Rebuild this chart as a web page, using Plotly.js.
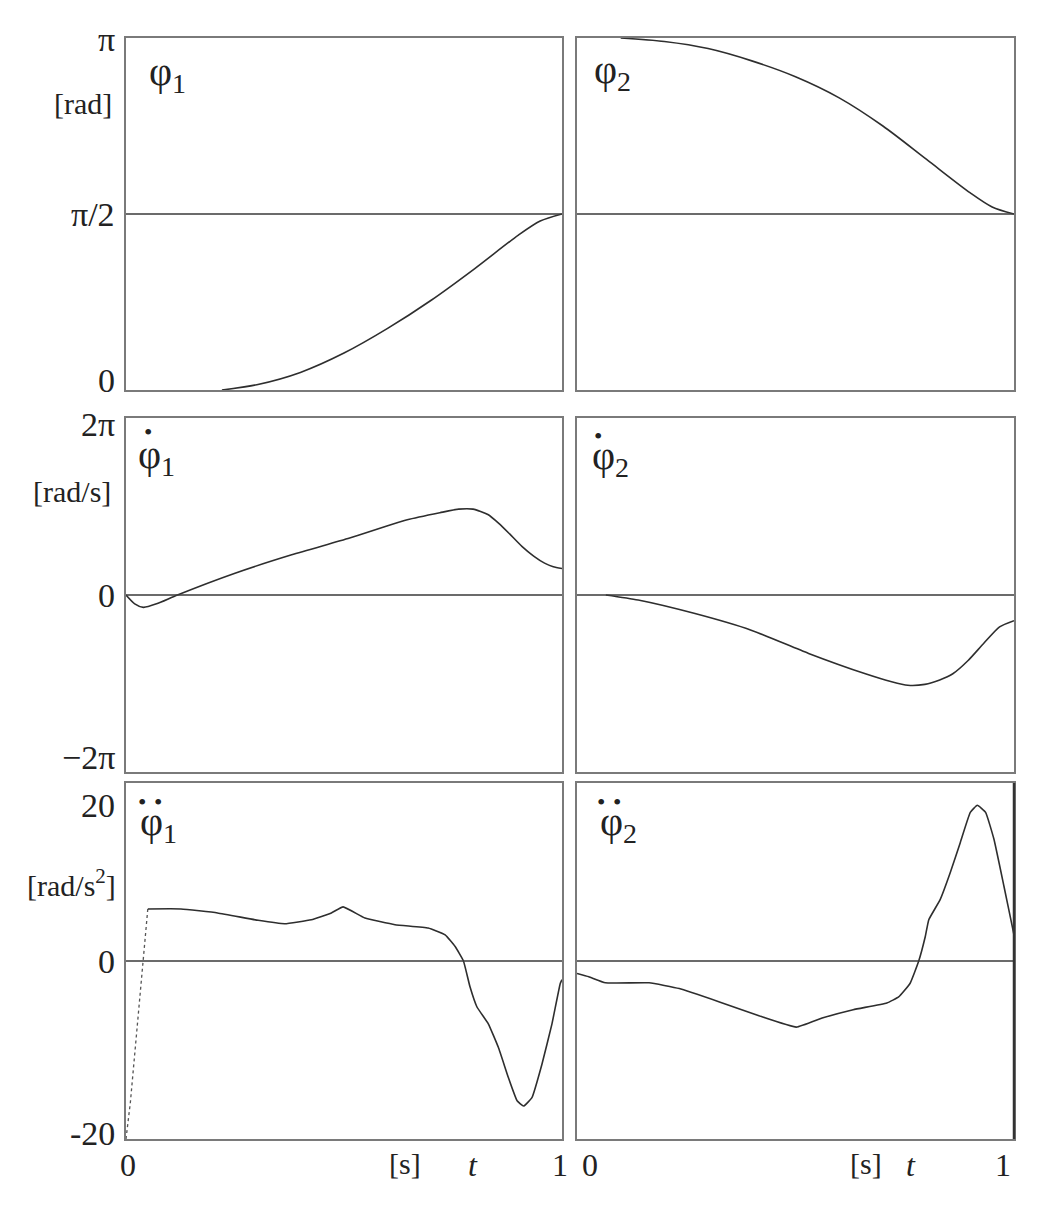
<!DOCTYPE html>
<html><head><meta charset="utf-8">
<script src="https://cdn.plot.ly/plotly-3.0.1.min.js"></script>
<style>html,body{margin:0;padding:0;background:#fff}</style>
</head><body><div id="chart" style="width:1048px;height:1208px"></div>
<script>
// ---- data (angles and angular rates in units of pi) ----
const tPhi1 = [0.22, 0.3, 0.4, 0.5, 0.6, 0.7, 0.8, 0.9, 0.95, 1.0];
const phi1  = [0, 0.015, 0.05, 0.105, 0.175, 0.255, 0.345, 0.44, 0.48, 0.5];

const tPhi2 = [0.1, 0.2, 0.3, 0.4, 0.5, 0.6, 0.7, 0.8, 0.9, 0.95, 1.0];
const phi2  = [1, 0.99, 0.97, 0.935, 0.89, 0.83, 0.75, 0.655, 0.56, 0.52, 0.5];

const tDPhi1 = [0, 0.02, 0.04, 0.07, 0.118, 0.25, 0.38, 0.513, 0.645, 0.72, 0.763, 0.796, 0.83, 0.855, 0.88, 0.908, 0.935, 0.96, 0.98, 1];
const dPhi1  = [0, -0.1, -0.14, -0.1, 0, 0.246, 0.454, 0.643, 0.85, 0.93, 0.97, 0.97, 0.91, 0.81, 0.69, 0.55, 0.44, 0.36, 0.32, 0.30];

const tDPhi2 = [0.066, 0.14, 0.27, 0.40, 0.53, 0.66, 0.72, 0.757, 0.796, 0.83, 0.86, 0.895, 0.93, 0.967, 1];
const dPhi2  = [0, -0.057, -0.21, -0.40, -0.66, -0.89, -0.98, -1.02, -1.01, -0.96, -0.89, -0.74, -0.55, -0.36, -0.29];

const tDDPhi1 = [0, 0.01, 0.05, 0.126, 0.21, 0.303, 0.364, 0.425, 0.471, 0.498, 0.548, 0.617, 0.693, 0.732, 0.755, 0.774, 0.789, 0.805, 0.831, 0.854, 0.877, 0.897, 0.912, 0.931, 0.954, 0.977, 0.996, 1];
const ddPhi1  = [-20, -15.9, 5.85, 5.85, 5.4, 4.57, 4.19, 4.64, 5.4, 6.08, 4.83, 4.08, 3.7, 2.94, 1.62, 0, -2.9, -5.17, -7.06, -9.7, -13.1, -15.7, -16.3, -15.36, -11.6, -7.06, -2.53, -2.1];
const dottedCount = 3; // first points of ddPhi1 drawn dotted

const tDDPhi2 = [0, 0.027, 0.065, 0.165, 0.234, 0.326, 0.418, 0.502, 0.563, 0.632, 0.709, 0.736, 0.762, 0.782, 0.797, 0.805, 0.831, 0.854, 0.877, 0.9, 0.916, 0.935, 0.954, 0.977, 0.996, 1];
const ddPhi2  = [-1.4, -1.77, -2.45, -2.45, -3.1, -4.6, -6.19, -7.43, -6.38, -5.47, -4.72, -4.04, -2.53, 0, 2.75, 4.64, 6.9, 9.92, 13.3, 16.7, 17.5, 16.7, 13.7, 8.4, 3.9, 2.9];

// axis tick labels and texts
const row1TickVals = [0, 0.5, 1];   const row1TickText = ['0', 'π/2', 'π'];
const row2TickVals = [-2, 0, 2];    const row2TickText = ['−2π', '0', '2π'];
const row3TickVals = [-20, 0, 20];  const row3TickText = ['-20', '0', '20'];
const unitLabels = ['[rad]', '[rad/s]', '[rad/s<sup>2</sup>]'];
const panelSymbols = ['φ<sub>1</sub>', 'φ<sub>2</sub>', 'φ<sub>1</sub>', 'φ<sub>2</sub>', 'φ<sub>1</sub>', 'φ<sub>2</sub>'];
const derivDots = [0, 0, 1, 1, 2, 2]; // number of derivative dots over each symbol
const refLines = [0.5, 0, 0]; // horizontal reference line per row
const xTickText = ['0', '1'];
const xUnit = '[s]';
const xSymbol = '<i>t</i>';

// ---- layout ----
const W = 1048, H = 1208;
const colLeft = [126, 577], colRight = [562, 1014];
const rowTop = [38, 418, 783], rowBot = [390, 772, 1139];
const colDom = [0, 1].map(c => [colLeft[c] / W, colRight[c] / W]);
const rowDom = [0, 1, 2].map(r => [1 - rowBot[r] / H, 1 - rowTop[r] / H]);
const yRanges = [[0, 1], [-2, 2], [-20, 20]];
const serif = "'Liberation Serif', 'Times New Roman', serif";
const curve = {color: '#2e2e2e', width: 1.6};
const ink = '#222';

const traces = [];
function add(x, y, k, line) {
  const s = k === 0 ? '' : String(k + 1);
  traces.push({x: x, y: y, xaxis: 'x' + s, yaxis: 'y' + s, type: 'scatter', mode: 'lines',
    line: Object.assign({}, curve, line || {}), hoverinfo: 'skip', showlegend: false});
}
add(tPhi1, phi1, 0, {shape: 'spline', smoothing: 0.8});
add(tPhi2, phi2, 1, {shape: 'spline', smoothing: 0.8});
add(tDPhi1, dPhi1, 2, {shape: 'spline', smoothing: 0.6});
add(tDPhi2, dPhi2, 3, {shape: 'spline', smoothing: 0.6});
add(tDDPhi1.slice(0, dottedCount), ddPhi1.slice(0, dottedCount), 4, {color: '#555', width: 1.3, dash: 'dot'});
add(tDDPhi1.slice(dottedCount - 1), ddPhi1.slice(dottedCount - 1), 4, {shape: 'spline', smoothing: 0.35});
add(tDDPhi2, ddPhi2, 5, {shape: 'spline', smoothing: 0.35});

const layout = {
  width: W, height: H, margin: {l: 0, r: 0, t: 0, b: 0},
  paper_bgcolor: '#fff', plot_bgcolor: '#fff', showlegend: false,
  font: {family: serif, color: ink},
  shapes: [], annotations: []
};
// symbol placement: [left offset, centre offset from top], dot offsets
const symPos = [[21, 36], [15, 34], [10, 39], [13, 40], [12, 41], [21, 41]];
const dotPos = [[], [], [[22, 14]], [[21, 18]], [[16, 19], [32, 19]], [[24, 19], [40, 19]]];
for (let k = 0; k < 6; k++) {
  const r = Math.floor(k / 2), c = k % 2;
  const s = k === 0 ? '' : String(k + 1);
  const common = {showline: true, mirror: true, linecolor: '#7a7a7a', linewidth: 2,
    showgrid: false, zeroline: false, showticklabels: false, ticks: '', fixedrange: true};
  layout['xaxis' + s] = Object.assign({}, common, {domain: colDom[c], range: [0, 1], anchor: 'y' + s});
  layout['yaxis' + s] = Object.assign({}, common, {domain: rowDom[r], range: yRanges[r], anchor: 'x' + s});
  layout.shapes.push({type: 'line', xref: 'x' + s + ' domain', x0: 0, x1: 1, yref: 'y' + s,
    y0: refLines[r], y1: refLines[r], line: {color: '#3a3a3a', width: 1.6}});
  layout.annotations.push({xref: 'x' + s + ' domain', yref: 'y' + s + ' domain', x: 0, y: 1,
    xanchor: 'left', yanchor: 'middle', xshift: symPos[k][0], yshift: -symPos[k][1], showarrow: false,
    text: panelSymbols[k], font: {family: serif, size: 40, color: ink}});
  for (let d = 0; d < derivDots[k]; d++) {
    layout.annotations.push({xref: 'x' + s + ' domain', yref: 'y' + s + ' domain', x: 0, y: 1,
      xanchor: 'center', yanchor: 'middle', xshift: dotPos[k][d][0], yshift: -dotPos[k][d][1], showarrow: false,
      text: '•', font: {family: serif, size: 24, color: ink}});
  }
}
// darker right edge on the last panel
layout.shapes.push({type: 'line', xref: 'x6 domain', x0: 1, x1: 1, yref: 'y6 domain', y0: 0, y1: 1,
  line: {color: '#333', width: 2.5}});

// y tick labels on left column
const tickSets = [[row1TickVals, row1TickText, [10, 0, -2]], [row2TickVals, row2TickText, [15, 0, -7]], [row3TickVals, row3TickText, [6, 0, -22]]];
const unitPos = [[-12, 65], [-13, 74], [-8, 100]];
tickSets.forEach((ts, r) => {
  const s = r === 0 ? '' : String(2 * r + 1);
  ts[0].forEach((v, i) => {
    layout.annotations.push({xref: 'x' + s + ' domain', yref: 'y' + s, x: 0, y: v, xanchor: 'right', yanchor: 'middle',
      xshift: -9, yshift: ts[2][i], showarrow: false, text: ts[1][i], font: {family: serif, size: 34, color: ink}});
  });
  layout.annotations.push({xref: 'x' + s + ' domain', yref: 'y' + s + ' domain', x: 0, y: 1,
    xanchor: 'right', yanchor: 'middle', xshift: unitPos[r][0], yshift: -unitPos[r][1], showarrow: false, text: unitLabels[r],
    font: {family: serif, size: 30, color: ink}});
});
// x labels under bottom row
[['x5', [2, -2], 0.64, 0.796], ['x6', [13, -11], 0.661, 0.764]].forEach(cfg => {
  const ax = cfg[0];
  const yr = 'y' + ax.slice(1) + ' domain';
  [0, 1].forEach((v, i) => {
    layout.annotations.push({xref: ax, yref: yr, x: v, y: 0, xanchor: 'center', yanchor: 'top', xshift: cfg[1][i], yshift: -6,
      showarrow: false, text: xTickText[i], font: {family: serif, size: 32, color: ink}});
  });
  layout.annotations.push({xref: ax, yref: yr, x: cfg[2], y: 0, xanchor: 'center', yanchor: 'top', yshift: -6,
    showarrow: false, text: xUnit, font: {family: serif, size: 30, color: ink}});
  layout.annotations.push({xref: ax, yref: yr, x: cfg[3], y: 0, xanchor: 'center', yanchor: 'top', yshift: -6,
    showarrow: false, text: xSymbol, font: {family: serif, size: 32, color: ink}});
});

Plotly.newPlot('chart', traces, layout, {staticPlot: true, displayModeBar: false});
</script>
</body></html>
